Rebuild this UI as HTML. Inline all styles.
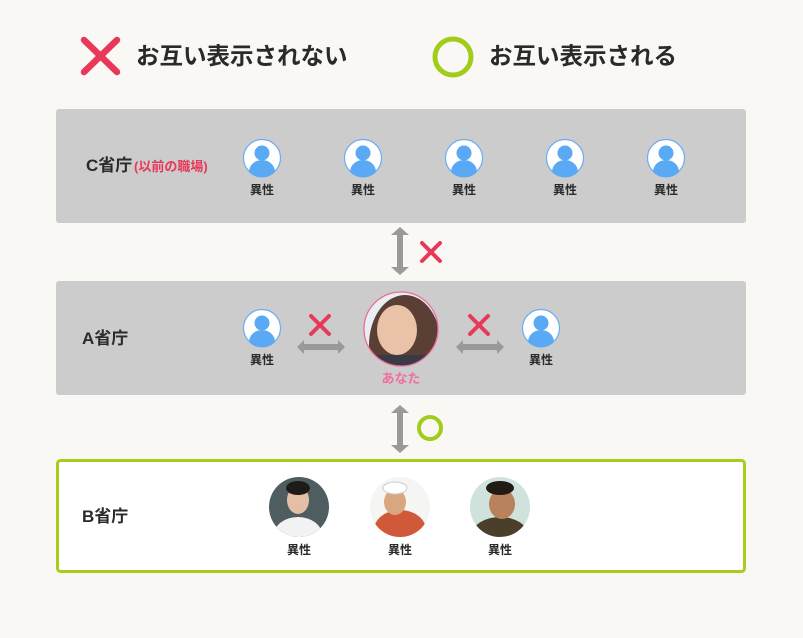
<!DOCTYPE html>
<html><head><meta charset="utf-8"><style>
html,body{margin:0;padding:0;background:#f9f8f5;}
svg{display:block;}
text{font-family:"Liberation Sans","Noto Sans CJK JP",sans-serif;font-weight:bold;}
</style></head><body>
<svg width="803" height="638" viewBox="0 0 803 638" xmlns="http://www.w3.org/2000/svg">
<defs>
<g id="u">
<circle r="18.5" fill="#fff" stroke="#6aacf5" stroke-width="1.2"/>
<circle cy="-5" r="7.5" fill="#5aa9f5"/>
<path d="M-13,14 A13,12 0 0 1 13,14 A18 18 0 0 1 -13,14 Z" fill="#5aa9f5"/>
</g>
<g id="hx"><path d="M-24,0 L-17,-7 L-17,-3 L17,-3 L17,-7 L24,0 L17,7 L17,3 L-17,3 L-17,7 Z" fill="#999"/></g>
<g id="vx"><path d="M0,-24 L-9,-16 L-3,-16 L-3,16 L-9,16 L0,24 L9,16 L3,16 L3,-16 L9,-16 Z" fill="#999"/></g>
<g id="x"><path d="M-9,-9 L9,9 M9,-9 L-9,9" stroke="#e8395a" stroke-width="4" stroke-linecap="round"/></g>
<clipPath id="c1"><circle cx="299" cy="507" r="30"/></clipPath>
<clipPath id="c2"><circle cx="400" cy="507" r="30"/></clipPath>
<clipPath id="c3"><circle cx="500" cy="507" r="30"/></clipPath>
<clipPath id="cy"><circle cx="401" cy="329" r="37"/></clipPath>
</defs>
<path d="M84,40 L117,72 M117,40 L84,72" stroke="#e8395a" stroke-width="6.5" stroke-linecap="round"/>
<text x="136" y="64" font-size="23.5" fill="#2a2a2a">お互い表示されない</text>
<circle cx="453" cy="57" r="18" fill="none" stroke="#a2cc1a" stroke-width="5"/>
<text x="489" y="64" font-size="23.5" fill="#2a2a2a">お互い表示される</text>
<rect x="56" y="109" width="690" height="114" rx="3" fill="#cccccc"/>
<text x="86" y="171" font-size="17" fill="#2a2a2a">C省庁</text>
<text x="134" y="171" font-size="13" fill="#e8395a">(以前の職場)</text>
<g font-size="12" fill="#2a2a2a" text-anchor="middle">
<use href="#u" x="262" y="158"/><text x="262" y="194">異性</text>
<use href="#u" x="363" y="158"/><text x="363" y="194">異性</text>
<use href="#u" x="464" y="158"/><text x="464" y="194">異性</text>
<use href="#u" x="565" y="158"/><text x="565" y="194">異性</text>
<use href="#u" x="666" y="158"/><text x="666" y="194">異性</text>
</g>
<use href="#vx" x="400" y="251"/>
<use href="#x" x="431" y="252"/>
<rect x="56" y="281" width="690" height="114" rx="3" fill="#cccccc"/>
<text x="82" y="344" font-size="17" fill="#2a2a2a">A省庁</text>
<g font-size="12" fill="#2a2a2a" text-anchor="middle">
<use href="#u" x="262" y="328"/><text x="262" y="364">異性</text>
<use href="#u" x="541" y="328"/><text x="541" y="364">異性</text>
</g>
<use href="#hx" x="321" y="347"/>
<use href="#hx" x="480" y="347"/>
<use href="#x" x="320" y="325"/>
<use href="#x" x="479" y="325"/>
<g clip-path="url(#cy)">
<rect x="360" y="290" width="82" height="80" fill="#e9eef2"/>
<ellipse cx="405" cy="345" rx="36" ry="50" fill="#5a3f35"/>
<ellipse cx="397" cy="330" rx="20" ry="25" fill="#e9c2a8"/>
<rect x="360" y="355" width="82" height="20" fill="#3a3a45"/>
</g>
<circle cx="401" cy="329" r="37" fill="none" stroke="#ee6b9a" stroke-width="1.3"/>
<text x="401" y="383" font-size="13" fill="#f06ea0" text-anchor="middle" font-weight="normal">あなた</text>
<use href="#vx" x="400" y="429"/>
<circle cx="430" cy="428" r="11" fill="none" stroke="#a2cc1a" stroke-width="4"/>
<rect x="57.5" y="460.5" width="687" height="111" rx="3" fill="#fff" stroke="#a8cc1e" stroke-width="3"/>
<text x="82" y="522" font-size="17" fill="#2a2a2a">B省庁</text>
<g clip-path="url(#c1)">
<rect x="260" y="470" width="80" height="70" fill="#4f5d60"/>
<ellipse cx="298" cy="500" rx="11" ry="14" fill="#e3c0a5"/>
<ellipse cx="298" cy="488" rx="12" ry="7" fill="#1e1a18"/>
<ellipse cx="298" cy="535" rx="24" ry="18" fill="#f2f2f2"/>
</g>
<g clip-path="url(#c2)">
<rect x="360" y="470" width="80" height="70" fill="#f5f5f3"/>
<ellipse cx="400" cy="530" rx="26" ry="20" fill="#d0593a"/>
<ellipse cx="395" cy="502" rx="11" ry="13" fill="#d8a77f"/>
<ellipse cx="395" cy="488" rx="12" ry="6" fill="#fff" stroke="#ccc"/>
</g>
<g clip-path="url(#c3)">
<rect x="460" y="470" width="80" height="70" fill="#cfe3dc"/>
<ellipse cx="500" cy="535" rx="28" ry="18" fill="#4a3f2a"/>
<ellipse cx="502" cy="504" rx="13" ry="15" fill="#b7825c"/>
<ellipse cx="500" cy="488" rx="14" ry="7" fill="#221a15"/>
</g>
<g font-size="12" fill="#2a2a2a" text-anchor="middle">
<text x="299" y="554">異性</text><text x="400" y="554">異性</text><text x="500" y="554">異性</text>
</g>
</svg>
</body></html>
